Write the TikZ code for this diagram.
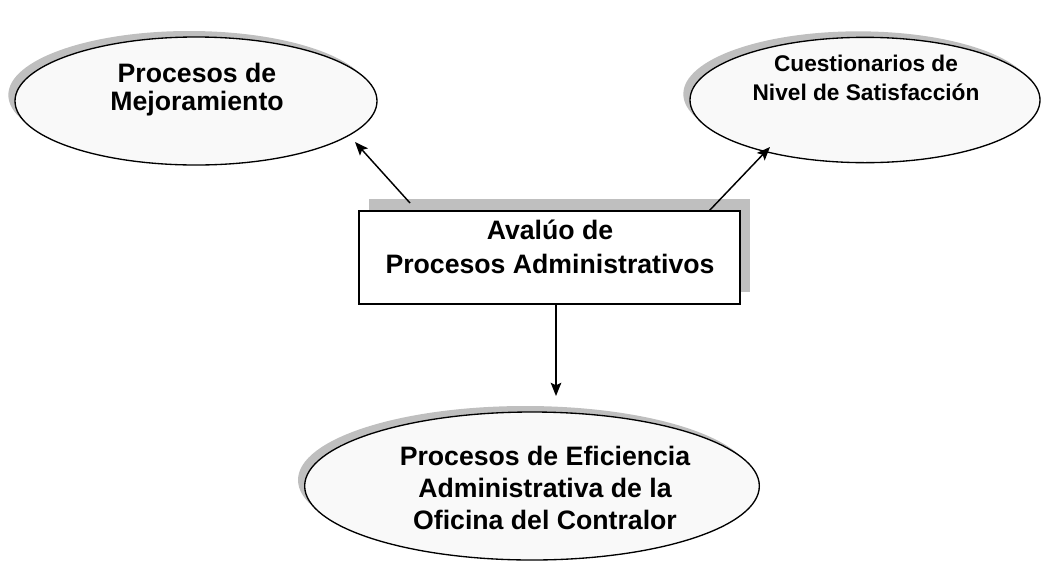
\documentclass[tikz,border=0pt]{standalone}
\usepackage{fontspec}
\setmainfont{Liberation Sans}
\usetikzlibrary{shapes,arrows.meta,positioning,shadows}

\begin{document}
\begin{tikzpicture}[x=0.75pt, y=-0.75pt, thick, >={Stealth[length=10pt, width=8pt, inset=2pt]}]

    % Define block styles
    \tikzstyle{bubble} = [draw, ellipse, line width=1pt, fill=gray!5, inner sep=0pt,
        drop shadow={shadow xshift=-5pt, shadow yshift=4.5pt, fill=gray!50, opacity=1}]
    \tikzstyle{block} = [draw, rectangle, line width=1.1pt, fill=white, minimum width=286pt, minimum height=70pt,
        drop shadow={shadow xshift=7.5pt, shadow yshift=9pt, fill=gray!50, opacity=1}]
    \tikzstyle{btext} = [align=center, font=\bfseries\fontsize{20}{24}\selectfont]
    \tikzstyle{link} = [->, line width=1.1pt]

    \useasboundingbox (0,0) rectangle (1046,568);

    % Central block
    \node[block] (avaluo) at (549.5,257.5) {};
    \node[btext, font=\bfseries\fontsize{20}{25}\selectfont] (avaluotxt) at (550,247) {Avalúo de\\Procesos Administrativos};

    % Ellipses
    \node[bubble, minimum width=271.5pt, minimum height=96pt] (mejora) at (196,101) {};
    \node[btext, font=\bfseries\fontsize{20}{21}\selectfont] (mejoratxt) at (197,90) {Procesos de\\Mejoramiento};

    \node[bubble, minimum width=262.5pt, minimum height=94pt] (satisf) at (865,100) {};
    \node[btext, font=\bfseries\fontsize{17}{22}\selectfont] (satisftxt) at (866,78) {Cuestionarios de\\Nivel de Satisfacción};

    \node[bubble, minimum width=341pt, minimum height=111pt] (eficiencia) at (532,486) {};
    \node[btext] (eficienciatxt) at (545,488) {Procesos de Eficiencia\\Administrativa de la\\Oficina del Contralor};

    % Arrows
    \coordinate (mejsrc) at (410,203);
    \coordinate (mejtip) at (355,142);
    \coordinate (satsrc) at (709,211);
    \coordinate (sattip) at (770,147);
    \coordinate (efisrc) at (556,304);
    \coordinate (efitip) at (556,396);

    \draw[link] (mejsrc) -- (mejtip);
    \draw[link] (satsrc) -- (sattip);
    \draw[link] (efisrc) -- (efitip);

\end{tikzpicture}
\end{document}
